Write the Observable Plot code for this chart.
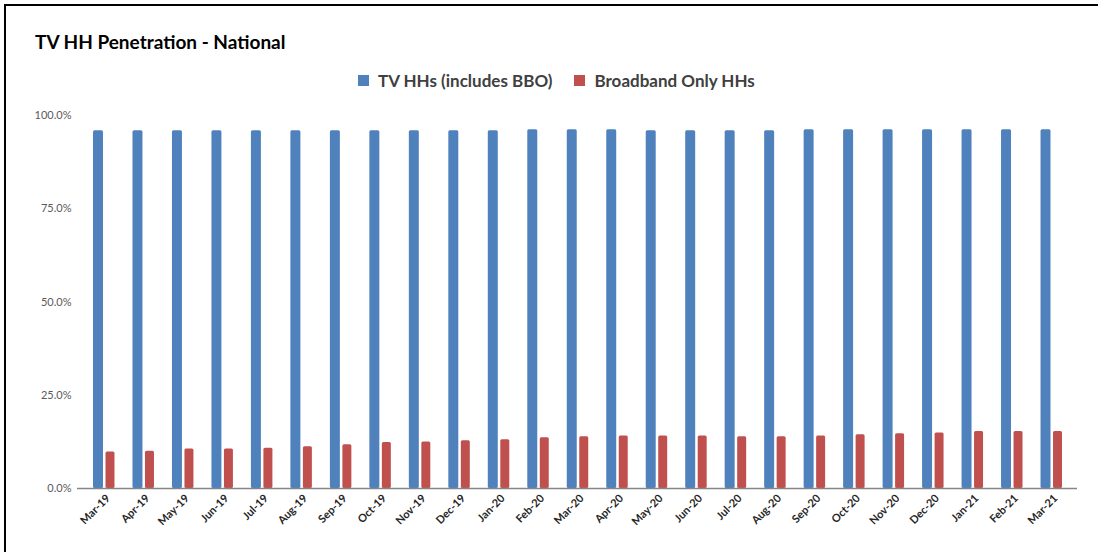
<!DOCTYPE html>
<html><head><meta charset="utf-8">
<script src="https://cdn.jsdelivr.net/npm/d3@7"></script>
<script src="https://cdn.jsdelivr.net/npm/@observablehq/plot@0.6"></script>
<style>
body{margin:0;background:#fff;font-family:Lato,"Open Sans",sans-serif;width:1098px;height:552px;overflow:hidden;position:relative;}
#frame{position:absolute;left:4px;top:4px;width:1094px;height:548px;border-top:2px solid #000;border-left:2px solid #000;box-sizing:border-box;}
#title{position:absolute;left:35px;top:30px;font-weight:bold;font-size:19px;color:#000;white-space:nowrap;}
#legend{position:absolute;top:70px;left:358px;display:flex;align-items:center;font-size:17px;font-weight:bold;color:#404040;white-space:nowrap;}
#legend .sw{display:inline-block;width:11px;height:11px;margin-right:9px;}
#legend .item{display:flex;align-items:center;margin-right:22px;}
#chart{position:absolute;left:0;top:100px;}
</style></head>
<body>
<div id="frame"></div>
<div id="title">TV HH Penetration - National</div>
<div id="legend"></div>
<div id="chart"></div>
<script>
const months = ["Mar-19","Apr-19","May-19","Jun-19","Jul-19","Aug-19","Sep-19","Oct-19","Nov-19","Dec-19","Jan-20","Feb-20","Mar-20","Apr-20","May-20","Jun-20","Jul-20","Aug-20","Sep-20","Oct-20","Nov-20","Dec-20","Jan-21","Feb-21","Mar-21"];
const tvHHs = [95.9,95.9,95.9,95.9,95.9,95.9,95.9,95.9,95.9,95.9,95.9,96.2,96.2,96.2,95.9,95.9,95.9,95.9,96.2,96.2,96.2,96.2,96.2,96.2,96.2];
const bboHHs = [9.8,10.0,10.6,10.6,10.8,11.2,11.7,12.3,12.5,12.8,13.1,13.6,13.9,14.1,14.1,14.1,13.9,13.9,14.1,14.4,14.7,14.9,15.3,15.3,15.3];
const seriesNames = ["TV HHs (includes BBO)","Broadband Only HHs"];
const seriesColors = ["#4F81BD","#C0504D"];
const yTicks = [0,25,50,75,100];

const legend = document.getElementById("legend");
seriesNames.forEach((n,i)=>{
  const it = document.createElement("span"); it.className="item";
  const sw = document.createElement("span"); sw.className="sw"; sw.style.background=seriesColors[i];
  it.appendChild(sw); it.appendChild(document.createTextNode(n)); legend.appendChild(it);
});

const tvData = months.map((m,i)=>({month:m, value:tvHHs[i]}));
const bboData = months.map((m,i)=>({month:m, value:bboHHs[i]}));

const chart = Plot.plot({
  width:1098, height:452,
  marginLeft:84, marginRight:27, marginTop:15, marginBottom:64,
  style:{fontFamily:"Lato, 'Open Sans', sans-serif", background:"transparent"},
  x:{domain:months, padding:0, round:false, label:null},
  y:{domain:[0,100], label:null},
  marks:[
    Plot.barY(tvData, {x:"month", y:"value", fill:seriesColors[0], insetLeft:9, insetRight:20.5, rx:1.5}),
    Plot.barY(bboData, {x:"month", y:"value", fill:seriesColors[1], insetLeft:21.5, insetRight:9, rx:1.5}),
    Plot.ruleY([0], {stroke:"#868686", strokeWidth:1.5, insetLeft:-7, insetRight:-6}),
    Plot.axisY({ticks:yTicks, tickFormat:d=>d.toFixed(1)+"%", tickSize:0, tickPadding:13, fontSize:11, fill:"#595959", label:null}),
    Plot.axisX({tickSize:0, tickRotate:-45, tickPadding:6, dx:4, dy:2, fontSize:11, fontWeight:"bold", fill:"#262626", label:null})
  ]
});
document.getElementById("chart").appendChild(chart);
</script>
</body></html>
